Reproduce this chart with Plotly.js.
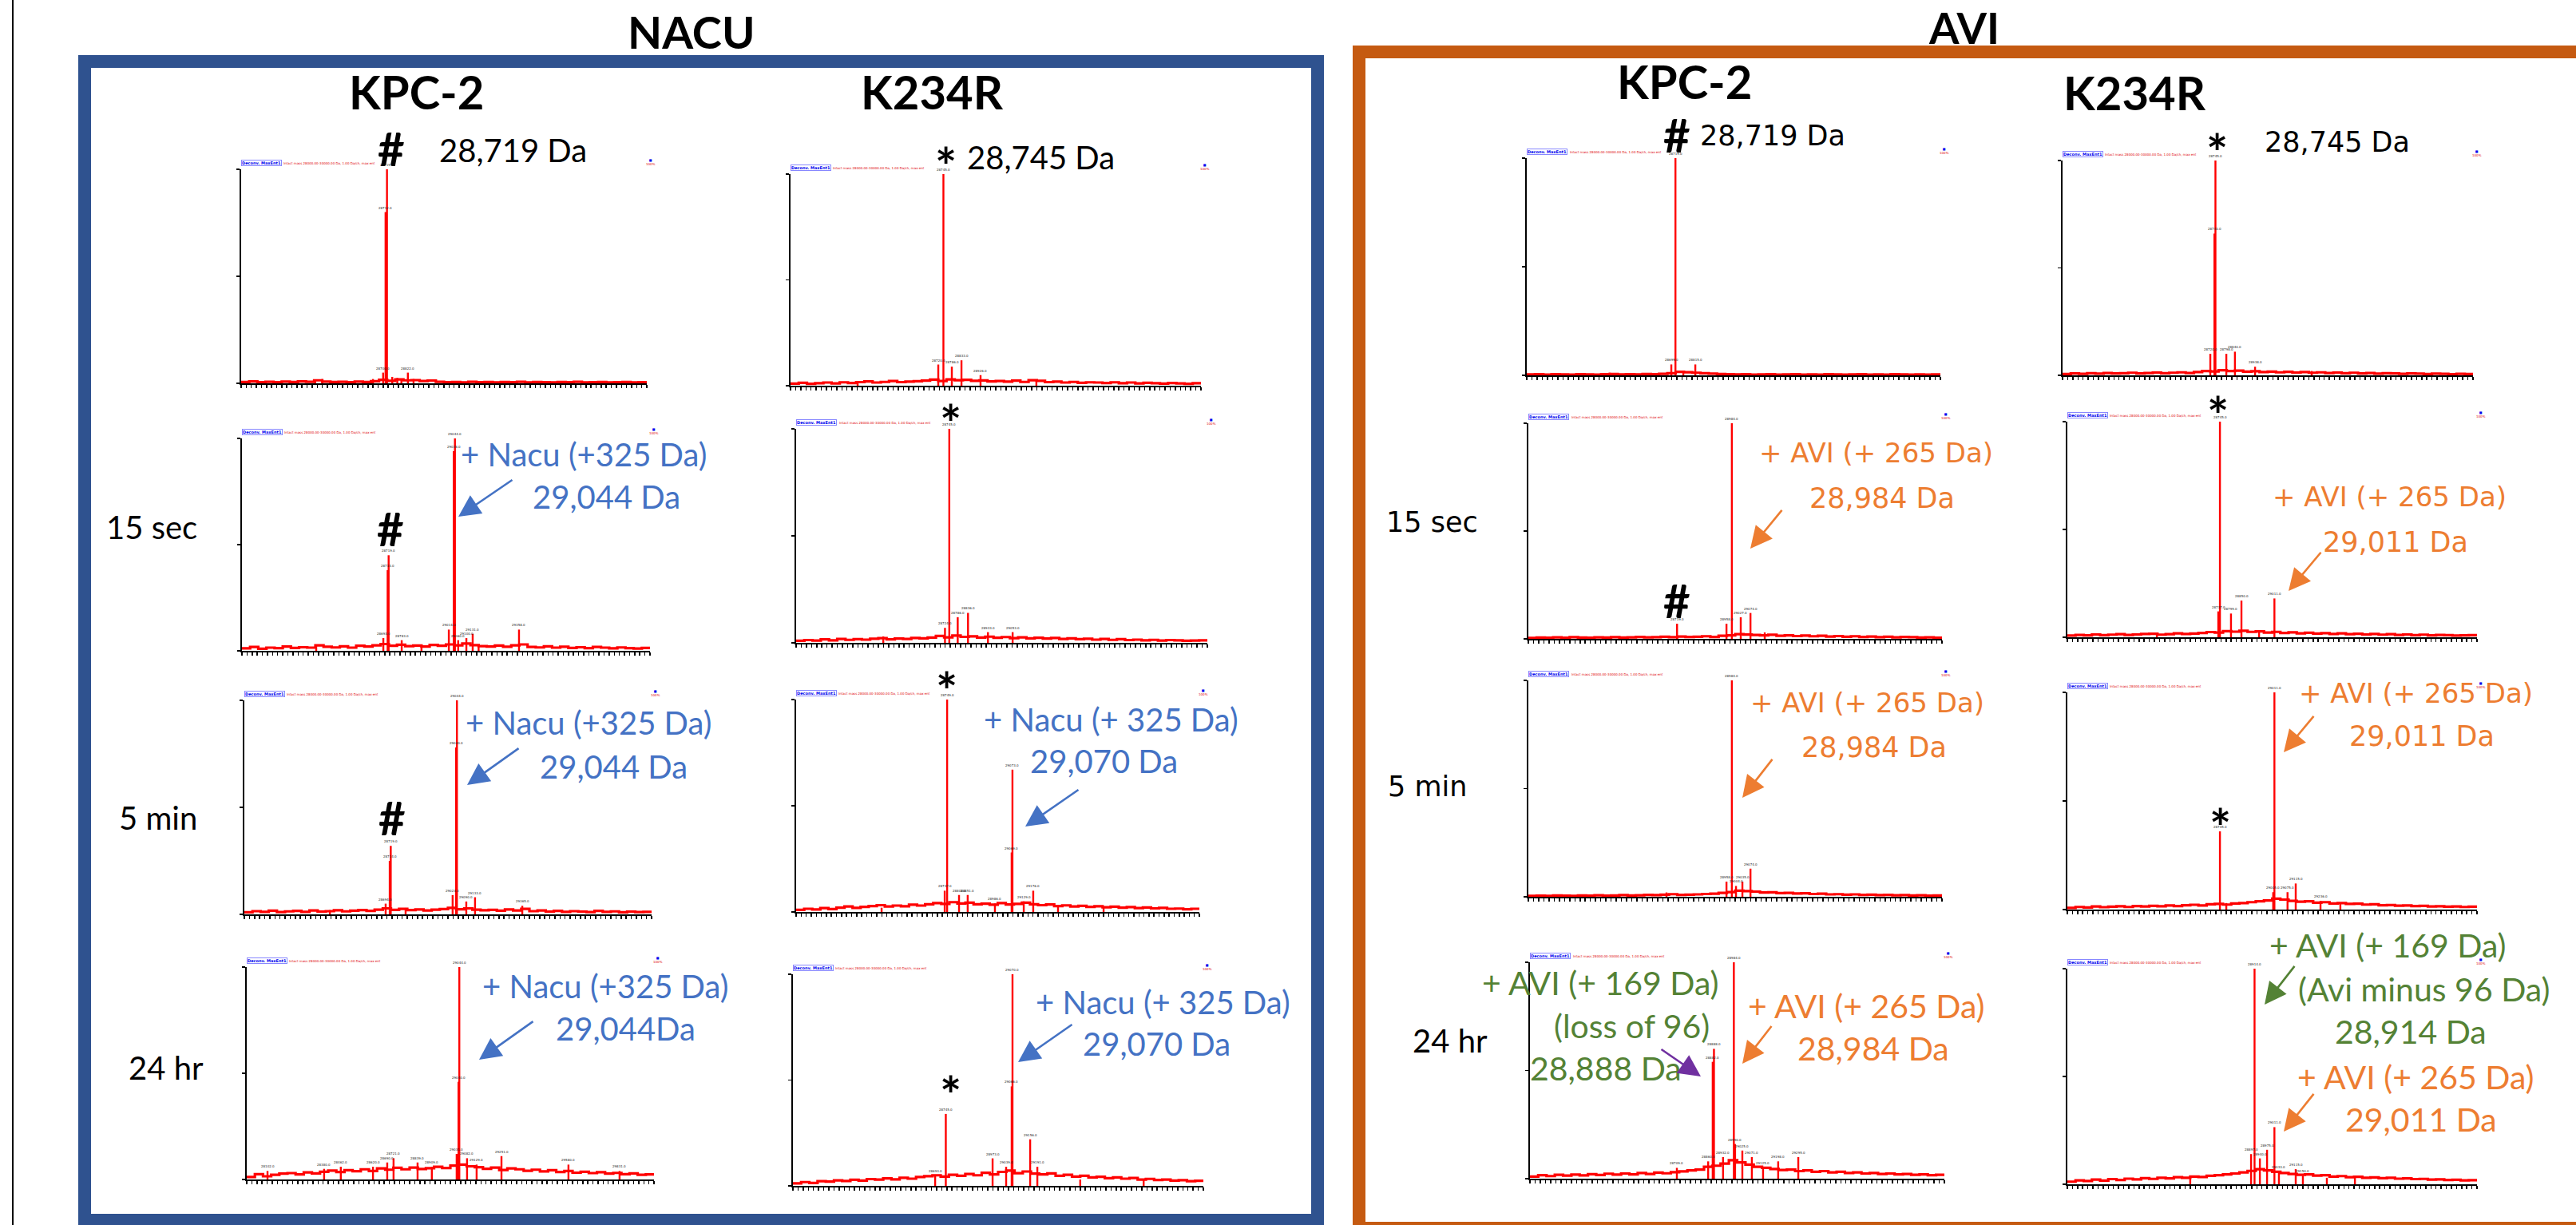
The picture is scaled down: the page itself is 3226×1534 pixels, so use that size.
<!DOCTYPE html>
<html><head><meta charset="utf-8">
<script src="https://cdn.plot.ly/plotly-3.0.1.min.js"></script>
<style>html,body{margin:0;padding:0;background:#fff}#chart{width:3226px;height:1534px}</style>
</head><body><div id="chart"></div>
<script>
// ---------- DATA ----------
// deconvoluted mass axis (Da) shared by every spectrum baseline
const massGrid = [28000,28040,28080,28120,28160,28200,28240,28280,28320,28360,28400,28440,28480,28520,28560,28600,28640,28680,28720,28760,28800,28840,28880,28920,28960,29000,29040,29080,29120,29160,29200,29240,29280,29320,29360,29400,29440,29480,29520,29560,29600,29640,29680,29720,29760,29800,29840,29880,29920,29960,30000];

// NACU - KPC-2
const base_A1 = [0.6,0.9,0.5,0.7,0.5,0.8,0.6,0.9,0.7,1.4,0.8,0.6,0.7,0.5,0.8,0.6,1.0,1.6,1.2,1.8,1.4,1.5,1.1,1.3,0.7,0.5,0.6,0.4,0.7,0.5,0.6,0.4,0.6,0.5,0.7,0.4,0.6,0.5,0.4,0.6,0.5,0.7,0.4,0.5,0.6,0.4,0.5,0.6,0.4,0.5,0.6];
const peakMass_A1 = [28365,28400,28650,28700,28712,28719,28745,28770,28790,28822,28850];
const peakInt_A1  = [1.2,2,2,5,80,100,3,2.5,2,5,2];
const base_A2 = [1.2,1.8,1.0,1.5,1.3,2.0,1.4,1.7,1.5,2.6,1.9,1.6,2.1,1.5,2.4,2.0,2.6,3.2,2.4,2.9,2.2,2.5,2.0,2.8,2.4,3.0,2.6,3.4,2.7,2.2,2.0,2.5,1.9,2.6,3.0,1.8,1.6,2.1,1.5,1.9,1.4,1.7,1.3,1.8,1.5,1.2,1.6,1.3,1.1,1.4,1.2];
const peakMass_A2 = [28364,28693,28714,28719,28783,28880,29014,29038,29044,29060,29100,29131,29160,29358];
const peakInt_A2  = [2.5,6,38,45,5,3,10,94,100,5,6,8,3,10];
const base_A3 = [1.0,1.5,1.2,1.7,1.1,1.4,1.6,1.2,1.8,1.3,1.5,1.9,1.4,1.7,2.0,1.6,2.2,2.8,2.1,2.6,2.0,2.3,1.8,2.2,2.5,3.0,2.4,2.8,2.2,1.9,2.1,1.7,2.3,1.8,2.6,1.5,1.8,1.3,1.6,1.2,1.5,1.3,1.1,1.6,1.2,1.4,1.0,1.3,1.1,1.2,1.0];
const peakMass_A3 = [28420,28694,28714,28719,28792,29023,29040,29044,29090,29133,29365];
const peakInt_A3  = [2,5,25,32,3,9,78,100,6,8,4];
const base_A4 = [1.2,2.5,1.5,2.2,2.8,3.0,2.4,3.3,2.9,3.6,4.2,3.5,4.4,3.9,4.8,4.0,5.2,4.6,5.5,4.8,5.6,4.9,5.3,6.0,5.4,6.5,7.0,6.2,5.8,5.0,5.6,4.5,5.2,4.8,4.1,4.6,3.8,4.4,3.5,4.0,3.2,3.6,3.0,3.4,2.8,3.1,2.5,2.9,2.2,2.4,2.6];
const peakMass_A4 = [28102,28380,28462,28620,28690,28721,28839,28909,29031,29040,29044,29082,29129,29251,29580,29831];
const peakInt_A4  = [4,5,6,6,8,10,8,6,12,46,100,10,7,11,7,4];

// NACU - K234R
const base_B1 = [1.0,1.4,0.9,1.2,1.5,1.1,1.6,1.3,1.7,2.0,1.5,1.8,2.2,1.7,1.9,2.1,2.4,2.9,2.2,3.0,2.6,2.8,2.3,2.5,2.0,2.2,1.9,2.4,1.8,2.6,2.3,1.7,1.9,1.5,1.8,1.4,1.6,1.5,1.3,1.6,1.2,1.5,1.1,1.4,1.2,1.0,1.3,1.1,0.9,1.2,1.0];
const peakMass_B1 = [28327,28720,28745,28786,28833,28926,29198];
const peakInt_B1  = [1.5,10,100,9,12,5,2.5];
const base_B2 = [1.0,1.3,1.1,1.6,1.2,1.8,1.4,1.7,1.5,1.9,2.2,1.6,2.0,1.8,2.3,2.1,2.5,3.2,2.6,3.4,2.8,3.0,2.5,2.9,2.4,2.7,2.2,2.6,2.1,2.4,2.0,2.3,1.8,2.1,1.7,1.9,1.5,1.8,1.4,1.7,1.3,1.5,1.2,1.4,1.1,1.3,1.2,1.0,1.1,1.2,1.0];
const peakMass_B2 = [28424,28724,28745,28786,28836,28933,29053];
const peakInt_B2  = [3,7,100,12,14,5,5];
const base_B3 = [1.0,1.5,1.2,1.8,1.4,2.0,2.6,1.9,2.4,2.8,3.2,2.6,3.0,2.7,3.4,3.0,3.6,4.2,3.8,4.6,4.0,4.4,3.6,3.9,3.4,4.2,3.5,3.8,4.4,3.6,3.2,3.5,2.8,3.1,2.6,2.9,2.4,2.7,2.2,2.5,2.0,2.3,1.8,2.1,1.7,1.9,1.5,1.6,1.3,1.5,1.2];
const peakMass_B3 = [28424,28737,28749,28808,28851,28986,29069,29073,29129,29176,29299,29525];
const peakInt_B3  = [2,10,100,8,8,4,28,67,5,10,3,2.5];
const base_B4 = [1.2,1.8,1.4,2.2,2.0,2.6,2.3,2.9,2.5,3.2,3.0,3.5,3.1,3.8,3.4,4.2,4.6,5.0,4.4,5.2,4.8,5.6,5.0,6.2,5.4,6.6,7.2,6.0,6.8,5.8,5.4,5.9,4.8,5.2,4.4,4.8,4.0,4.3,3.6,4.0,3.4,3.7,3.0,3.3,2.8,3.0,2.5,2.7,2.2,2.4,2.0];
const peakMass_B4 = [28693,28745,28973,29039,29066,29070,29156,29191,29400,29709];
const peakInt_B4  = [5,34,13,9,47,100,22,9,3,3];

// AVI - KPC-2
const base_C1 = [0.4,0.5,0.3,0.5,0.4,0.3,0.5,0.4,0.3,0.5,0.6,0.4,0.5,0.4,0.6,0.5,0.7,1.0,1.6,1.4,1.2,1.0,0.8,0.6,0.5,0.4,0.5,0.3,0.4,0.5,0.3,0.4,0.5,0.3,0.4,0.3,0.5,0.4,0.3,0.4,0.5,0.3,0.4,0.3,0.5,0.4,0.3,0.4,0.3,0.4,0.3];
const peakMass_C1 = [28402,28699,28719,28757,28815];
const peakInt_C1  = [1.2,5,100,2,5];
const base_C2 = [0.4,0.6,0.5,0.7,0.5,0.8,0.6,0.5,0.7,0.6,0.8,0.6,0.7,0.9,0.7,0.8,1.0,0.8,1.1,0.9,1.0,1.2,0.9,1.4,1.6,2.2,2.0,1.8,1.6,1.9,1.4,1.6,1.3,1.5,1.2,1.4,1.1,1.3,1.0,1.2,0.9,1.1,0.8,1.0,0.7,0.9,0.8,0.6,0.7,0.5,0.6];
const peakMass_C2 = [28719,28958,28984,29027,29074,29143];
const peakInt_C2  = [7,7,100,10,12,3];
const base_C3 = [0.4,0.5,0.4,0.6,0.5,0.4,0.6,0.5,0.7,0.5,0.6,0.8,0.6,0.7,0.9,0.8,1.0,1.2,0.9,1.0,1.1,1.3,1.4,1.8,2.2,2.8,2.6,2.4,2.0,2.1,1.7,1.8,1.5,1.6,1.3,1.4,1.1,1.2,1.0,1.1,0.9,1.0,0.8,0.9,0.7,0.8,0.6,0.7,0.5,0.6,0.5];
const peakMass_C3 = [28668,28958,28984,29004,29035,29074];
const peakInt_C3  = [2,7,100,5,7,13];
const base_C4 = [1.0,1.6,1.2,1.8,1.4,1.9,1.5,2.1,1.7,2.3,1.9,2.4,2.0,2.6,2.2,2.8,2.5,3.0,3.4,3.8,4.2,5.5,6.0,7.0,8.5,7.5,6.5,5.5,5.0,4.5,4.0,4.2,3.5,3.8,3.2,3.5,2.9,3.2,2.6,2.9,2.4,2.6,2.2,2.4,2.0,2.2,1.8,2.0,1.6,1.8,1.5];
const peakMass_C4 = [28709,28860,28882,28888,28932,28984,28990,29025,29071,29125,29198,29295];
const peakInt_C4  = [5,8,54,60,10,100,16,13,10,5,8,10];

// AVI - K234R
const base_D1 = [0.6,0.9,0.7,1.0,0.8,1.1,0.9,1.0,1.2,0.9,1.1,1.3,1.0,1.2,1.4,1.1,1.5,2.0,1.8,2.4,2.0,2.2,1.7,1.9,1.5,1.7,1.4,1.6,1.3,1.5,1.2,1.4,1.1,1.3,1.0,1.2,0.9,1.1,0.8,1.0,0.9,0.7,0.9,0.8,0.6,0.8,0.7,0.5,0.7,0.6,0.5];
const peakMass_D1 = [28720,28740,28745,28798,28840,28938,29214];
const peakInt_D1  = [10,66,100,10,11,4,2];
const base_D2 = [0.8,1.1,0.9,1.3,1.0,1.2,1.4,1.1,1.3,1.5,1.6,1.2,1.4,1.8,1.5,1.7,2.0,2.4,2.2,2.8,2.6,3.0,2.5,2.7,2.2,2.5,2.0,2.3,1.8,2.1,1.7,1.9,1.5,1.8,1.4,1.6,1.3,1.5,1.2,1.4,1.1,1.3,1.0,1.2,0.9,1.1,1.0,0.8,0.9,1.0,0.8];
const peakMass_D2 = [28437,28737,28745,28799,28850,28936,29011];
const peakInt_D2  = [2,12,100,11,17,3,18];
const base_D3 = [0.8,1.2,1.0,1.4,1.1,1.3,1.5,1.2,1.6,1.4,1.7,1.5,1.9,1.6,2.0,2.2,1.9,2.4,2.6,2.3,2.8,3.0,3.4,3.8,4.2,5.0,4.6,4.0,3.6,3.8,3.2,3.4,2.8,3.0,2.6,2.7,2.3,2.4,2.0,2.1,1.8,1.9,1.6,1.7,1.4,1.5,1.3,1.4,1.2,1.3,1.1];
const peakMass_D3 = [28745,28776,29005,29011,29075,29115,29236,29333];
const peakInt_D3  = [36,3,8,100,8,12,4,3];
const base_D4 = [1.2,1.8,1.5,2.2,1.7,2.4,2.0,2.6,2.3,2.8,2.5,3.0,2.7,3.3,3.0,3.6,3.4,3.9,4.2,4.6,5.0,5.5,6.2,7.0,6.4,5.8,5.2,4.8,4.4,4.6,4.0,4.2,3.6,3.8,3.3,3.5,3.0,3.2,2.8,3.0,2.6,2.7,2.4,2.5,2.2,2.3,2.0,2.1,1.8,1.9,1.6];
const peakMass_D4 = [28600,28897,28914,28940,28975,29011,29033,29115,29150,29267,29404];
const peakInt_D4  = [3,14,100,12,16,26.5,6,7,4,3,3];

const groupTitles = ['NACU','AVI'];
const enzymeTitles = ['KPC-2','K234R'];
const timeLabels = ['15 sec','5 min','24 hr'];

// ---------- LAYOUT ----------
const W = 3226, H = 1534;
const px = x => x / W, py = y => 1 - y / H;

// panel boxes in pixels: [left, right, top, bottom]
const panels = [
  {base:base_A1, pm:peakMass_A1, pi:peakInt_A1, box:[302,810,212,480]},
  {base:base_A2, pm:peakMass_A2, pi:peakInt_A2, box:[303,814,549,815]},
  {base:base_A3, pm:peakMass_A3, pi:peakInt_A3, box:[306,816,877,1145]},
  {base:base_A4, pm:peakMass_A4, pi:peakInt_A4, box:[309,819,1211,1477]},
  {base:base_B1, pm:peakMass_B1, pi:peakInt_B1, box:[990,1504,218,483]},
  {base:base_B2, pm:peakMass_B2, pi:peakInt_B2, box:[997,1512,537,805]},
  {base:base_B3, pm:peakMass_B3, pi:peakInt_B3, box:[997,1502,876,1142]},
  {base:base_B4, pm:peakMass_B4, pi:peakInt_B4, box:[993,1507,1220,1485]},
  {base:base_C1, pm:peakMass_C1, pi:peakInt_C1, box:[1912,2430,198,470]},
  {base:base_C2, pm:peakMass_C2, pi:peakInt_C2, box:[1914,2432,530,800]},
  {base:base_C3, pm:peakMass_C3, pi:peakInt_C3, box:[1914,2432,852,1123]},
  {base:base_C4, pm:peakMass_C4, pi:peakInt_C4, box:[1916,2435,1205,1476]},
  {base:base_D1, pm:peakMass_D1, pi:peakInt_D1, box:[2583,3097,201,470]},
  {base:base_D2, pm:peakMass_D2, pi:peakInt_D2, box:[2589,3102,528,798]},
  {base:base_D3, pm:peakMass_D3, pi:peakInt_D3, box:[2589,3102,867,1139]},
  {base:base_D4, pm:peakMass_D4, pi:peakInt_D4, box:[2589,3102,1213,1483]}
];

const traces = [];
const layout = {
  width: W, height: H, margin:{l:0,r:0,t:0,b:0},
  paper_bgcolor:'#ffffff', plot_bgcolor:'rgba(0,0,0,0)',
  showlegend:false, annotations:[], shapes:[]
};
const ann = layout.annotations;

panels.forEach((p, k) => {
  const n = k + 1, sx = n === 1 ? '' : String(n);
  // noisy baseline
  traces.push({
    type:'scatter', mode:'lines', x: massGrid, y: p.base, line:{color:'#ff0000', width:3.2, shape:'hv'},
    xaxis:'x' + sx, yaxis:'y' + sx, hoverinfo:'skip'
  });
  // peak sticks
  const sxv = [], syv = [];
  p.pm.forEach((m, i) => { sxv.push(m, m, null); syv.push(0, p.pi[i], null); });
  traces.push({
    type:'scatter', mode:'lines', x: sxv, y: syv, line:{color:'#ff0000', width:2.4},
    xaxis:'x' + sx, yaxis:'y' + sx, hoverinfo:'skip', connectgaps:false
  });
  const [l, r, t, b] = p.box;
  layout['xaxis' + sx] = {
    domain:[px(l), px(r)], range:[28000, 30000], anchor:'y' + sx,
    showline:true, linecolor:'#000', linewidth:2, ticks:'outside', ticklen:4, tickwidth:1.5,
    tickcolor:'#000', tick0:28000, dtick:25, showticklabels:false, showgrid:false, zeroline:false, fixedrange:true
  };
  layout['yaxis' + sx] = {
    domain:[py(b), py(t)], range:[0, 100], anchor:'x' + sx,
    showline:true, linecolor:'#000', linewidth:2, ticks:'outside', ticklen:4, tickwidth:1.5,
    tickcolor:'#000', dtick:50, showticklabels:false, showgrid:false, zeroline:false, fixedrange:true
  };
  // tiny instrument header text
  ann.push({xref:'x' + sx + ' domain', yref:'y' + sx + ' domain', x:0, y:1, yshift:4,
    xanchor:'left', yanchor:'bottom', showarrow:false, text:'<b>Deconv. MaxEnt1</b>',
    font:{size:5, color:'#0000ee', family:'DejaVu Sans'}, bordercolor:'#8888ff', borderwidth:1, borderpad:0});
  ann.push({xref:'x' + sx + ' domain', yref:'y' + sx + ' domain', x:0.1, y:1, yshift:3,
    xanchor:'left', yanchor:'bottom', showarrow:false, text:'Intact mass 28000.00-30000.00 Da, 1.00 Da/ch, max ent',
    font:{size:4, color:'#dd0000', family:'DejaVu Sans'}});
  ann.push({xref:'x' + sx + ' domain', yref:'y' + sx + ' domain', x:1.01, y:1, yshift:2,
    xanchor:'center', yanchor:'bottom', showarrow:false,
    text:'<span style="color:#0000ee">■</span><br>100%',
    font:{size:4, color:'#dd0000', family:'DejaVu Sans'}});
  // tiny peak labels
  p.pm.forEach((m, i) => {
    if (p.pi[i] >= 4) {
      ann.push({xref:'x' + sx, yref:'y' + sx, x:m, y:p.pi[i], yshift:1, xanchor:'center', yanchor:'bottom',
        showarrow:false, text:m.toFixed(1), font:{size:4, color:'#222', family:'DejaVu Sans'}});
    }
  });
});

// text helper
function T(text, x, y, size, color, family, opts) {
  const o = Object.assign({xref:'paper', yref:'paper', x:px(x), y:py(y), xanchor:'center', yanchor:'middle',
    showarrow:false, text:text, font:{size:size, color:color, family:family}}, opts || {});
  ann.push(o);
}
function A(tx, ty, hx, hy, color) {
  ann.push({xref:'paper', yref:'paper', x:px(hx), y:py(hy), ax:tx - hx, ay:ty - hy,
    axref:'pixel', ayref:'pixel', showarrow:true, arrowhead:2, arrowsize:2.1, arrowwidth:2.6,
    arrowcolor:color, text:' ', font:{size:1}, standoff:0});
}
const CAL = 'Lato, Carlito, sans-serif', VER = 'DejaVu Sans, Verdana, sans-serif';
const BLUE = '#4472C4', ORANGE = '#ED7D31', GREEN = '#548235', PURPLE = '#7030A0', K = '#000000';
const SYM = 'Lato, sans-serif';
const hash = (x, y) => T('<b>#</b>', x, y, 58, K, SYM);
const star = (x, y) => T('<b>*</b>', x, y + 13, 64, K, SYM);

// group and column titles
T('<b>' + groupTitles[0] + '</b>', 865, 39, 56, K, CAL);
T('<b>' + groupTitles[1] + '</b>', 2459, 0, 54, K, CAL, {yanchor:'top', y:1});
T('<b>' + enzymeTitles[0] + '</b>', 521, 114, 58, K, CAL);
T('<b>' + enzymeTitles[1] + '</b>', 1167, 114, 58, K, CAL);
T('<b>' + enzymeTitles[0] + '</b>', 2109, 101, 58, K, CAL);
T('<b>' + enzymeTitles[1] + '</b>', 2673, 115, 58, K, CAL);

// row labels
T(timeLabels[0], 190, 660, 40, K, CAL);
T(timeLabels[1], 198, 1024, 40, K, CAL);
T(timeLabels[2], 208, 1337, 40, K, CAL);
T(timeLabels[0], 1793, 654, 35, K, VER);
T(timeLabels[1], 1787, 985, 35, K, VER);
T(timeLabels[2], 1816, 1303, 40, K, CAL);

// NACU / KPC-2
hash(490, 185); T('28,719 Da', 642, 188, 40, K, CAL);
hash(489, 661); T('+ Nacu (+325 Da)', 731, 569, 40, BLUE, CAL); T('29,044 Da', 759, 622, 40, BLUE, CAL);
A(643, 600, 574, 647, BLUE);
hash(491, 1023); T('+ Nacu (+325 Da)', 737, 905, 40, BLUE, CAL); T('29,044 Da', 768, 960, 40, BLUE, CAL);
A(651, 936, 585, 983, BLUE);
T('+ Nacu (+325 Da)', 758, 1235, 40, BLUE, CAL); T('29,044Da', 783, 1288, 40, BLUE, CAL);
A(669, 1278, 600, 1327, BLUE);

// NACU / K234R
star(1184, 195); T('28,745 Da', 1303, 197, 40, K, CAL);
star(1190, 517);
star(1185, 851); T('+ Nacu (+ 325 Da)', 1391, 901, 40, BLUE, CAL); T('29,070 Da', 1382, 953, 40, BLUE, CAL);
A(1352, 988, 1284, 1035, BLUE);
star(1190, 1357); T('+ Nacu (+ 325 Da)', 1456, 1255, 40, BLUE, CAL); T('29,070 Da', 1448, 1307, 40, BLUE, CAL);
A(1344, 1282, 1275, 1330, BLUE);

// AVI / KPC-2
hash(2100, 168); T('28,719 Da', 2220, 170, 35, K, VER);
T('+ AVI (+ 265 Da)', 2349, 567, 34, ORANGE, VER); T('28,984 Da', 2357, 624, 35, ORANGE, VER);
A(2233, 637, 2192, 687, ORANGE); hash(2100, 751);
T('+ AVI (+ 265 Da)', 2338, 880, 34, ORANGE, VER); T('28,984 Da', 2347, 936, 35, ORANGE, VER);
A(2221, 949, 2182, 999, ORANGE);
T('+ AVI (+ 169 Da)', 2004, 1230, 41, GREEN, CAL); T('(loss of 96)', 2043, 1284, 41, GREEN, CAL);
T('28,888 Da', 2011, 1337, 41, GREEN, CAL); A(2079, 1313, 2130, 1348, PURPLE);
T('+ AVI (+ 265 Da)', 2337, 1259, 41, ORANGE, CAL); T('28,984 Da', 2346, 1312, 41, ORANGE, CAL);
A(2220, 1283, 2182, 1332, ORANGE);

// AVI / K234R
star(2776, 178); T('28,745 Da', 2927, 178, 35, K, VER);
star(2777, 506); T('+ AVI (+ 265 Da)', 2992, 622, 34, ORANGE, VER); T('29,011 Da', 3000, 679, 35, ORANGE, VER);
A(2908, 690, 2866, 740, ORANGE);
star(2780, 1022); T('+ AVI (+ 265 Da)', 3025, 868, 34, ORANGE, VER); T('29,011 Da', 3033, 922, 35, ORANGE, VER);
A(2899, 895, 2860, 942, ORANGE);
T('+ AVI (+ 169 Da)', 2990, 1183, 41, GREEN, CAL); T('(Avi minus 96 Da)', 3035, 1238, 41, GREEN, CAL);
T('28,914 Da', 3019, 1291, 41, GREEN, CAL); A(2875, 1208, 2836, 1258, GREEN);
T('+ AVI (+ 265 Da)', 3025, 1348, 41, ORANGE, CAL); T('29,011 Da', 3032, 1401, 41, ORANGE, CAL);
A(2899, 1368, 2860, 1417, ORANGE);

// frames
layout.shapes.push({type:'line', xref:'paper', yref:'paper', x0:px(16), x1:px(16), y0:0, y1:1,
  line:{color:'#000', width:2}});
layout.shapes.push({type:'rect', xref:'paper', yref:'paper', x0:px(106), x1:px(1650), y0:py(1528), y1:py(77),
  line:{color:'#2F528F', width:16}, fillcolor:'rgba(0,0,0,0)'});
layout.shapes.push({type:'rect', xref:'paper', yref:'paper', x0:px(1702), x1:px(3245), y0:py(1538), y1:py(65),
  line:{color:'#C55A11', width:16}, fillcolor:'rgba(0,0,0,0)'});

Plotly.newPlot('chart', traces, layout, {displayModeBar:false, staticPlot:true});
</script>
</body></html>
